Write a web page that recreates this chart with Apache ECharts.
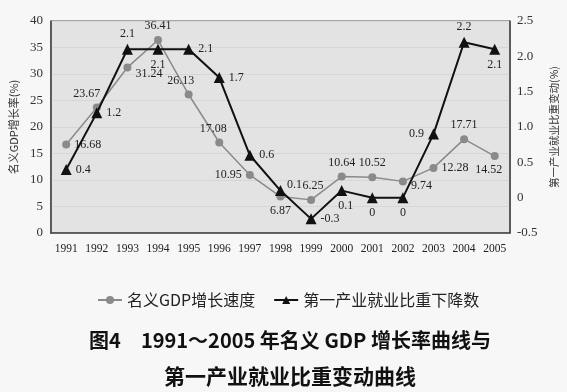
<!DOCTYPE html>
<html><head><meta charset="utf-8">
<script src="https://cdn.jsdelivr.net/npm/echarts@6/dist/echarts.min.js"></script>
<style>html,body{margin:0;padding:0;background:#f7f7f7}#c{width:567px;height:392px}</style>
</head><body><div id="c"></div>
<script>
const years = ['1991','1992','1993','1994','1995','1996','1997','1998','1999','2000','2001','2002','2003','2004','2005'];
const gdpGrowth = [16.68, 23.67, 31.24, 36.41, 26.13, 17.08, 10.95, 6.87, 6.25, 10.64, 10.52, 9.74, 12.28, 17.71, 14.52];
const primaryShareDrop = [0.4, 1.2, 2.1, 2.1, 2.1, 1.7, 0.6, 0.1, -0.3, 0.1, 0, 0, 0.9, 2.2, 2.1];
const leftTicks = {min: 0, max: 40, interval: 5};
const rightTicks = {min: -0.5, max: 2.5, interval: 0.5};

const gdpLabelPos = ['right','top','right','top','top','top','left','bottom','top','top','top','right','right','top','bottom'];
const gdpLabelOff = [[0,0],[-10,0],[0,6],[0,0],[-8,0],[-6,0],[0,0],[0,0],[2,0],[0,0],[0,0],[0,4],[0,0],[0,0],[-6,0]];
const dropLabelPos = ['right','right','top','bottom','right','right','right','right','right','bottom','bottom','bottom','left','top','bottom'];
const dropLabelOff = [[0,0],[0,0],[0,0],[0,0],[0,0],[0,0],[0,0],[-3,-6],[0,0],[4,0],[0,0],[0,0],[0,0],[0,0],[0,0]];

const numFont = '"Liberation Serif", "DejaVu Serif", serif';
const cjk = '"Noto Sans CJK SC", sans-serif';

const chart = echarts.init(document.getElementById('c'));
chart.setOption({
  backgroundColor: '#f7f7f7',
  animation: false,
  title: [
    {text: '图4　1991～2005 年名义 GDP 增长率曲线与', left: 285, top: 325, textAlign: 'center',
     textStyle: {fontFamily: cjk, fontSize: 20, fontWeight: 'bold', color: '#111'}},
    {text: '第一产业就业比重变动曲线', left: 285, top: 361, textAlign: 'center',
     textStyle: {fontFamily: cjk, fontSize: 21, fontWeight: 'bold', color: '#111'}}
  ],
  legend: {
    left: 92, top: 287, itemWidth: 24, itemHeight: 10, itemGap: 18,
    textStyle: {fontFamily: cjk, fontSize: 16, color: '#222'},
    data: ['名义GDP增长速度', '第一产业就业比重下降数']
  },
  grid: {left: 47, right: 49, top: 21, bottom: 159, show: true, backgroundColor: '#e3e3e3', borderColor: '#555', borderWidth: 1},
  xAxis: {
    type: 'category', data: years, boundaryGap: true,
    axisLine: {lineStyle: {color: '#444', width: 1.5}},
    axisTick: {show: false},
    axisLabel: {fontFamily: numFont, fontSize: 11.5, color: '#222', margin: 10, interval: 0}
  },
  yAxis: [
    {type: 'value', min: leftTicks.min, max: leftTicks.max, interval: leftTicks.interval,
     name: '名义GDP增长率(%)', nameLocation: 'middle', nameRotate: 90, nameGap: 29,
     nameTextStyle: {fontFamily: cjk, fontSize: 11, color: '#333'},
     axisLine: {show: true, lineStyle: {color: '#444', width: 1.5}},
     axisTick: {show: false},
     axisLabel: {fontFamily: numFont, fontSize: 13, color: '#333', margin: 8},
     splitLine: {show: true, lineStyle: {color: '#d6d6d6', width: 1}}},
    {type: 'value', min: rightTicks.min, max: rightTicks.max, interval: rightTicks.interval,
     position: 'right',
     name: '第一产业就业比重变动(%)', nameLocation: 'middle', nameRotate: 90, nameGap: 32,
     nameTextStyle: {fontFamily: cjk, fontSize: 10.5, color: '#333'},
     axisLine: {show: true, lineStyle: {color: '#444', width: 1.5}},
     axisTick: {show: false},
     axisLabel: {fontFamily: numFont, fontSize: 13, color: '#333', margin: 7,
       formatter: v => (v === 0 ? '0' : v.toFixed(1))},
     splitLine: {show: false}}
  ],
  series: [
    {name: '名义GDP增长速度', type: 'line', yAxisIndex: 0,
     symbol: 'circle', symbolSize: 8,
     itemStyle: {color: '#8a8a8a'},
     lineStyle: {color: '#8a8a8a', width: 1.5},
     label: {show: true, fontFamily: numFont, fontSize: 12, color: '#222', distance: 4},
     data: gdpGrowth.map((v, i) => ({value: v, label: {position: gdpLabelPos[i], offset: gdpLabelOff[i]}})),
     z: 3},
    {name: '第一产业就业比重下降数', type: 'line', yAxisIndex: 1,
     symbol: 'triangle', symbolSize: 11,
     itemStyle: {color: '#111'},
     lineStyle: {color: '#111', width: 2},
     label: {show: true, fontFamily: numFont, fontSize: 12, color: '#222', distance: 4},
     data: primaryShareDrop.map((v, i) => ({value: v, label: {position: dropLabelPos[i], offset: dropLabelOff[i]}})),
     z: 4}
  ]
});
</script>
</body></html>
